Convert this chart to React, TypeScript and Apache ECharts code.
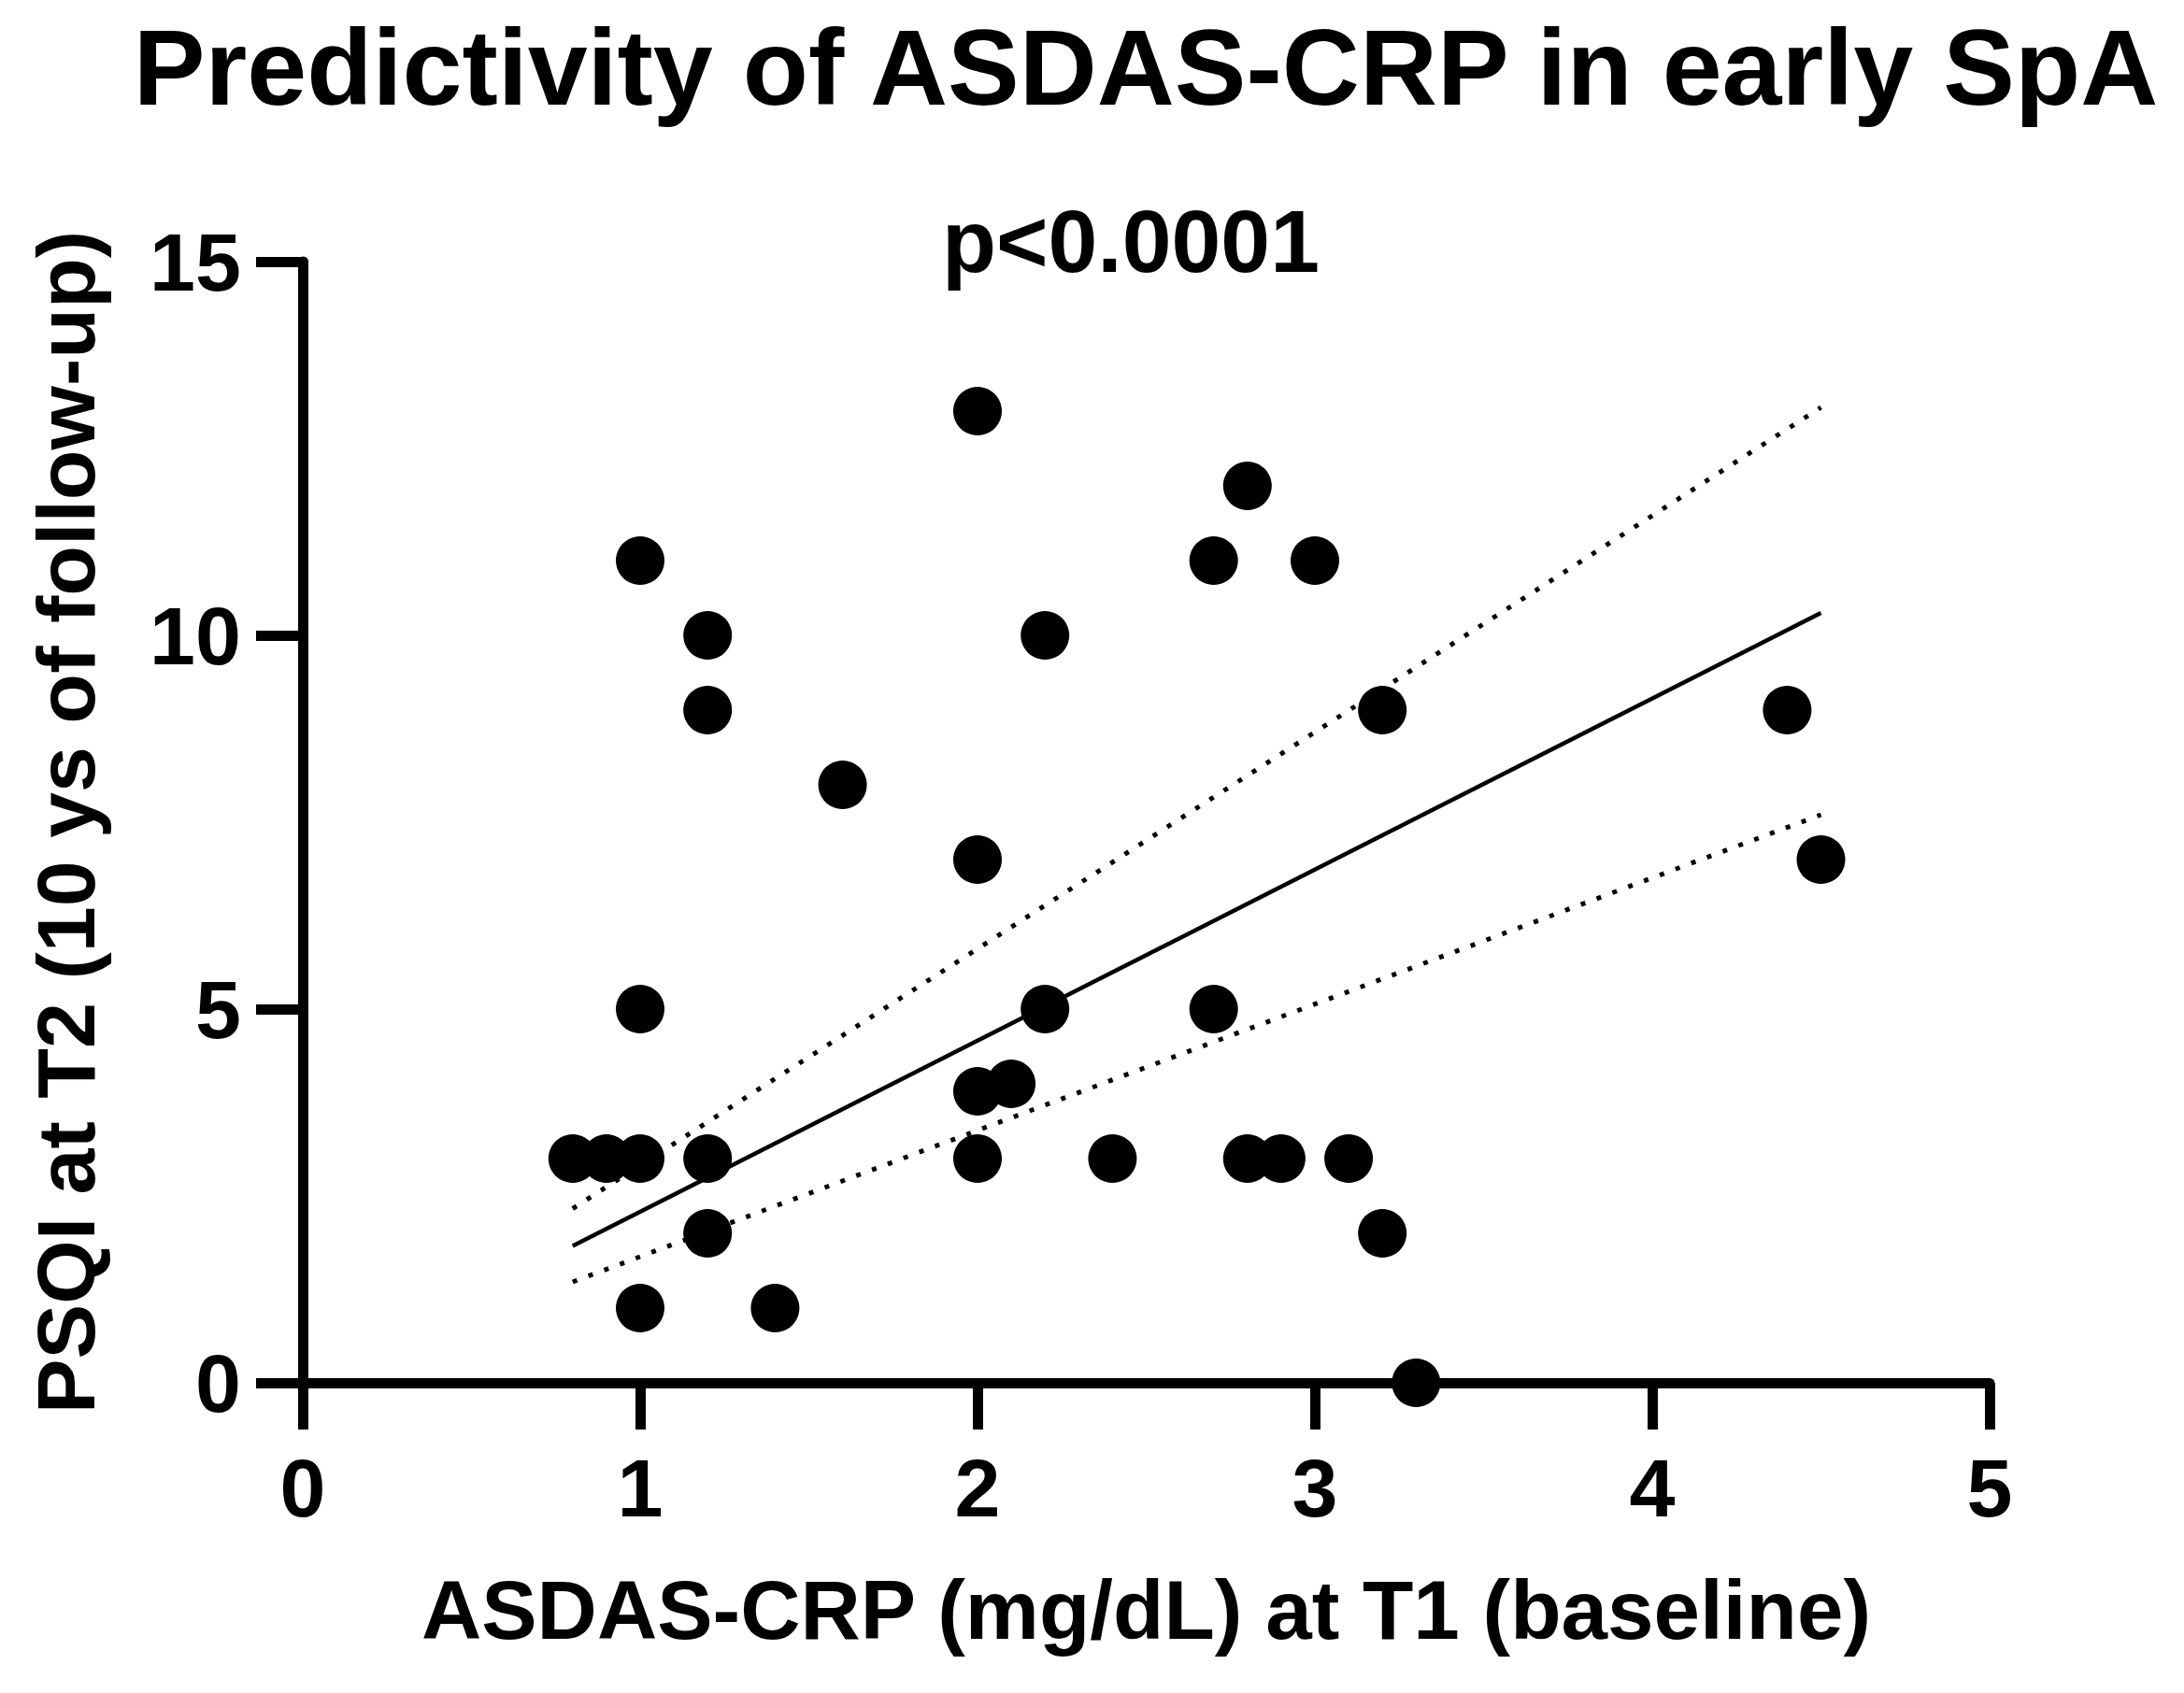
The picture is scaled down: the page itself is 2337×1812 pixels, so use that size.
import React, { useEffect, useRef } from "react";
import * as echarts from "echarts";

const titleText = "Predictivity of ASDAS-CRP in early SpA";
const pText = "p<0.0001";
const xName = "ASDAS-CRP (mg/dL) at T1 (baseline)";
const yName = "PSQI at T2 (10 ys of follow-up)";

const xValues = [0.8, 0.9, 1.0, 1.0, 1.0, 1.0, 1.2, 1.2, 1.2, 1.2, 1.4, 1.6, 2.0, 2.0, 2.0, 2.0, 2.1, 2.2, 2.2, 2.4, 2.7, 2.7, 2.8, 2.8, 2.9, 3.0, 3.1, 3.2, 3.2, 3.3, 4.4, 4.5];
const yValues = [3, 3, 3, 11, 5, 1, 10, 9, 3, 2, 1, 8, 13, 7, 3.9, 3, 4, 10, 5, 3, 11, 5, 12, 3, 3, 11, 3, 9, 2, 0, 9, 7];

const fitX = [0.8, 4.5];
const fitY = [1.83, 10.3];
const upperY = [2.33, 13.05];
const lowerY = [1.35, 7.6];

const xTicks = [0, 1, 2, 3, 4, 5];
const yTicks = [0, 5, 10, 15];

const FONT = "'Liberation Sans', Arial, sans-serif";

export default function App() {
  const ref = useRef<HTMLDivElement>(null);
  useEffect(() => {
    document.body.style.margin = "0";
    const chart = echarts.init(ref.current!, null, { renderer: "svg" });
    const pts = xValues.map((x, i) => [x, yValues[i]]);
    const mk = (ys: number[]) => fitX.map((x, i) => [x, ys[i]]);
    chart.setOption({
      animation: false,
      backgroundColor: "#ffffff",
      grid: { left: 324, right: 208, top: 280, bottom: 332 },
      xAxis: {
        type: "value",
        min: xTicks[0],
        max: xTicks[xTicks.length - 1],
        interval: 1,
        name: xName,
        nameLocation: "middle",
        nameGap: 198,
        nameTextStyle: { fontFamily: FONT, fontWeight: "bold", fontSize: 89, color: "#000" },
        axisLine: { show: true, onZero: false, lineStyle: { color: "#000", width: 11 } },
        axisTick: { show: true, length: 50, lineStyle: { color: "#000", width: 11 } },
        axisLabel: { margin: 68, fontFamily: FONT, fontWeight: "bold", fontSize: 88, color: "#000" },
        splitLine: { show: false },
      },
      yAxis: {
        type: "value",
        min: yTicks[0],
        max: yTicks[yTicks.length - 1],
        interval: 5,
        name: yName,
        nameLocation: "middle",
        nameGap: 210,
        nameTextStyle: { fontFamily: FONT, fontWeight: "bold", fontSize: 88, color: "#000" },
        axisLine: { show: true, onZero: false, lineStyle: { color: "#000", width: 11 } },
        axisTick: { show: true, length: 50, lineStyle: { color: "#000", width: 11 } },
        axisLabel: { margin: 66, fontFamily: FONT, fontWeight: "bold", fontSize: 88, color: "#000" },
        splitLine: { show: false },
      },
      graphic: [
        {
          type: "text",
          x: 1226,
          y: 72,
          style: { text: titleText, font: `bold 115px ${FONT}`, fill: "#000", align: "center", verticalAlign: "middle" },
        },
        {
          type: "text",
          x: 1210,
          y: 258,
          style: { text: pText, font: `bold 95px ${FONT}`, fill: "#000", align: "center", verticalAlign: "middle" },
        },
      ],
      series: [
        {
          type: "line",
          data: mk(upperY),
          symbol: "none",
          lineStyle: { color: "#000", width: 5, type: [5, 13] },
          z: 1,
        },
        {
          type: "line",
          data: mk(lowerY),
          symbol: "none",
          lineStyle: { color: "#000", width: 5, type: [5, 13] },
          z: 1,
        },
        {
          type: "line",
          data: mk(fitY),
          symbol: "none",
          lineStyle: { color: "#000", width: 4.5 },
          z: 1,
        },
        {
          type: "scatter",
          data: pts,
          symbol: "circle",
          symbolSize: 52,
          itemStyle: { color: "#000", opacity: 1 },
          clip: false,
          z: 3,
        },
      ],
    });
    return () => chart.dispose();
  }, []);
  return <div ref={ref} style={{ position: "fixed", left: 0, top: 0, width: 2337, height: 1812, background: "#fff" }} />;
}
